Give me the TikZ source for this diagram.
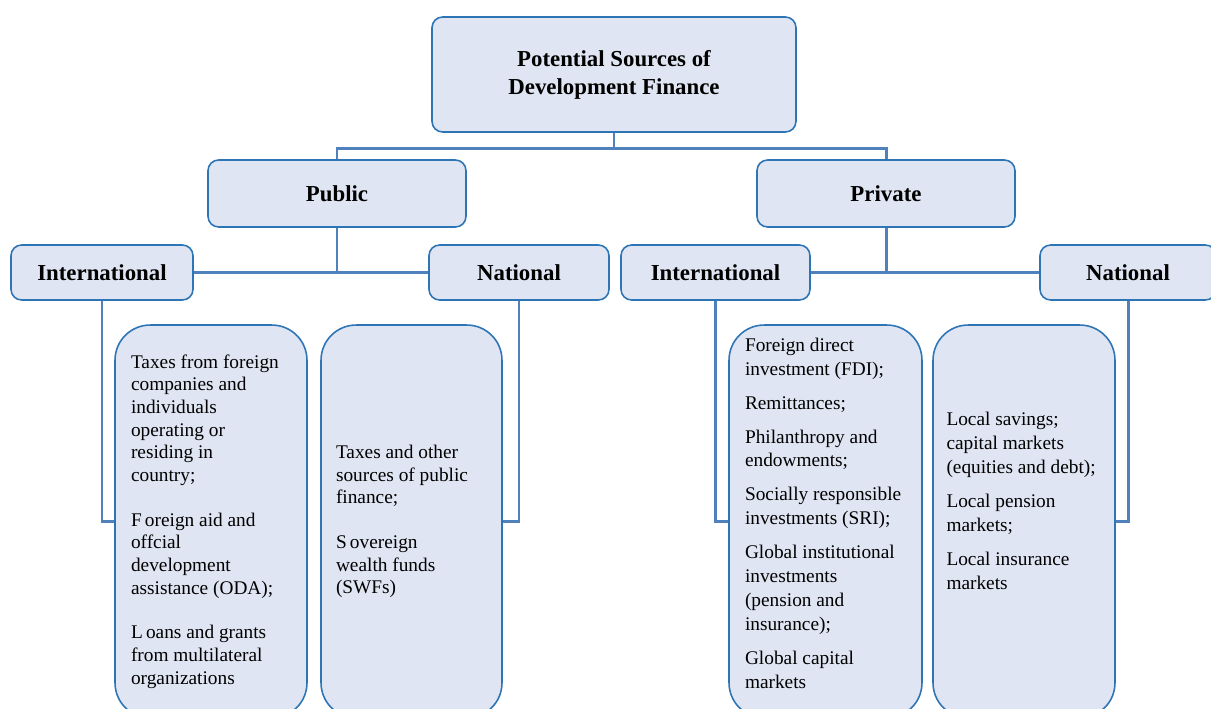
\documentclass[tikz,border=0pt]{standalone}
\usepackage{fontspec}
\setmainfont{Liberation Serif}
\usepackage{tikz}

\definecolor{boxfill}{HTML}{DFE5F2}
\definecolor{boxline}{HTML}{2E75B6}
\definecolor{linkline}{HTML}{4F81BD}

\tikzset{
	head/.style={rectangle, rounded corners=6pt, draw=boxline, fill=boxfill, line width=0.9pt,
		align=center, font=\bfseries\fontsize{13}{15.9}\selectfont},
	list/.style={rectangle, rounded corners=20pt, draw=boxline, fill=boxfill, line width=0.9pt,
		align=flush left, minimum height=7.86cm, font=\fontsize{11}{12.9}\selectfont},
	link/.style={draw=linkline, line width=1.7pt}
}

\begin{document}
\begin{tikzpicture}[x=0.02cm, y=-0.02cm]
\useasboundingbox (0,0) rectangle (1211,709);

\node (top) at (614,74.5) [head, minimum width=7.28cm, minimum height=2.3cm] {Potential Sources of\\Development Finance};

\node (pub) at (337,193.5) [head, minimum width=5.16cm, minimum height=1.34cm] {Public};
	\node (pubint) at (102,272.5) [head, minimum width=3.64cm, minimum height=1.1cm] {International};
	\node (pubnat) at (519,272.5) [head, minimum width=3.6cm, minimum height=1.1cm] {National};

\node (priv) at (886,193.5) [head, minimum width=5.16cm, minimum height=1.34cm] {Private};
	\node (privint) at (715.5,272.5) [head, minimum width=3.78cm, minimum height=1.1cm] {International};
	\node (privnat) at (1128,272.5) [head, minimum width=3.52cm, minimum height=1.1cm] {National};

% lists under each branch
\node (pubintlist) at (211,521.5) [list, text width=3.2cm, inner xsep=0.32cm]
	{Taxes from foreign\\companies and\\individuals\\operating or\\residing in\\country;\\[12.5pt]
	F\,oreign aid and\\offcial\\development\\assistance (ODA);\\[12.5pt]
	L\,oans and grants\\from multilateral\\organizations};

\node (pubnatlist) at (411.5,521.5) [list, text width=3.02cm, inner xsep=0.3cm]
	{Taxes and other\\sources of public\\finance;\\[12.5pt]
	S\,overeign\\wealth funds\\(SWFs)};

\node (privintlist) at (825.5,521.5) [list, text width=3.22cm, inner xsep=0.32cm, font=\fontsize{11}{13.6}\selectfont]
	{Foreign direct\\investment (FDI);\\[5.7pt]
	Remittances;\\[5.7pt]
	Philanthropy and\\endowments;\\[5.7pt]
	Socially responsible\\investments (SRI);\\[5.7pt]
	Global institutional\\investments\\(pension and\\insurance);\\[5.7pt]
	Global capital\\markets\\[-4pt]\mbox{}};

\node (privnatlist) at (1024,521.5) [list, text width=3.1cm, inner xsep=0.27cm, font=\fontsize{11}{13.6}\selectfont]
	{Local savings;\\capital markets\\(equities and debt);\\[5.7pt]
	Local pension\\markets;\\[5.7pt]
	Local insurance\\markets\\[10pt]\mbox{}};

% connectors
\draw[link] (top.south) -- ++(0,16) coordinate (topjoin);
\draw[link] (pub.north) |- (topjoin) -| (priv.north);

\draw[link] (pub.south) |- (pubint.east);
\draw[link] (pub.south) |- (pubnat.west);
\draw[link] (priv.south) |- (privint.east);
\draw[link] (priv.south) |- (privnat.west);

\draw[link] (pubint.south) |- (pubintlist.west);
\draw[link] (pubnat.south) |- (pubnatlist.east);
\draw[link] (privint.south) |- (privintlist.west);
\draw[link] (privnat.south) |- (privnatlist.east);

\end{tikzpicture}
\end{document}
